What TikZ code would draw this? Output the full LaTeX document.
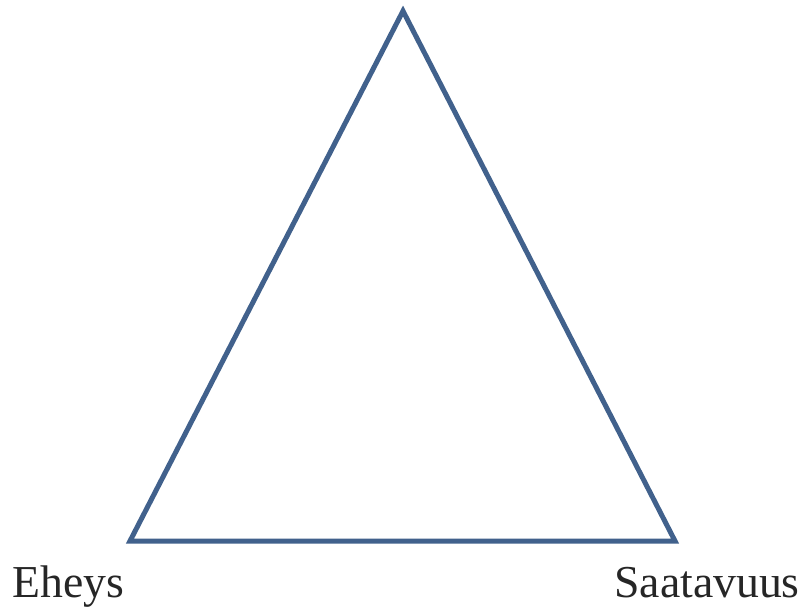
\documentclass[tikz,border=0pt]{standalone}
\usepackage{fontspec}
\setmainfont{Liberation Serif}
\usepackage{xcolor}
\usetikzlibrary{positioning}
\definecolor{triblue}{HTML}{41618C}
\tikzset{
 tri side/.style={line width=0.125cm,draw=triblue,line join=miter},
 tri label/.style={font=\fontsize{32.5}{36}\selectfont,text=black!85,inner sep=0pt}
}
\begin{document}
\begin{tikzpicture}[x=0.025cm,y=0.025cm]
 \useasboundingbox (0,0) rectangle (804,608);
 \coordinate (top) at (403,597);
 \coordinate (left) at (130,67);
 \coordinate (right) at (675,67);

 \draw[tri side] (left)--(top)--(right)--cycle;

 \node[tri label,anchor=base west] (eheys) at (12,11) {Eheys};
 \node[tri label,anchor=base east] (saatavuus) at (800,11) {Saatavuus};
\end{tikzpicture}
\end{document}
